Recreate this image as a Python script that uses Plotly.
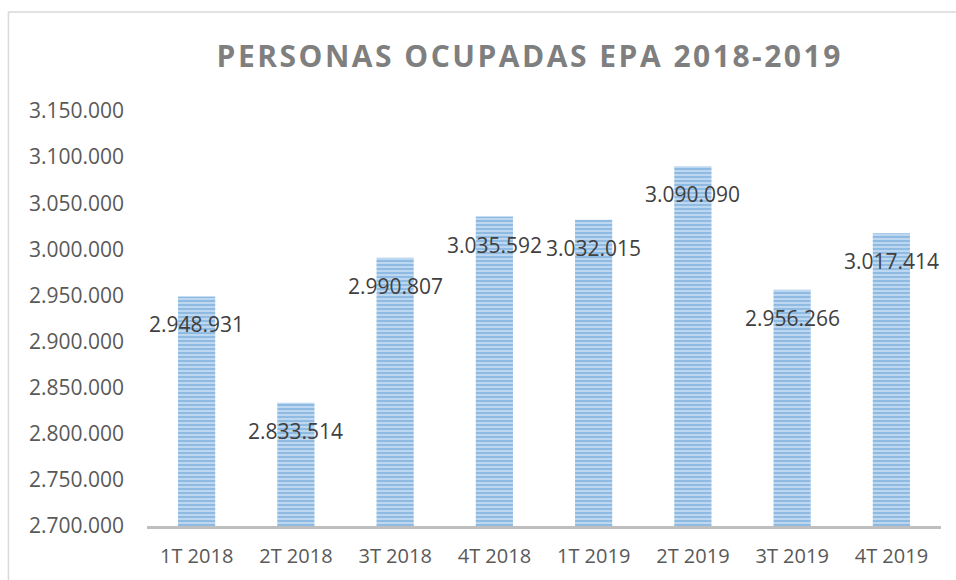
import plotly.graph_objects as go

categories = ["1T 2018", "2T 2018", "3T 2018", "4T 2018", "1T 2019", "2T 2019", "3T 2019", "4T 2019"]
ocupados = [2948931, 2833514, 2990807, 3035592, 3032015, 3090090, 2956266, 3017414]
title_text = "PERSONAS OCUPADAS EPA 2018-2019"

def fmt(v):
    return f"{v:,}".replace(",", ".")

fig = go.Figure()
fig.add_trace(go.Bar(
    x=categories, y=ocupados,
    marker=dict(color="#c2daf1", line=dict(width=0),
                pattern=dict(shape="-", fgcolor="#5b9bd5", bgcolor="#c2daf1", size=4, solidity=0.55)),
    hoverinfo="x+y",
))

for c, v in zip(categories, ocupados):
    fig.add_annotation(x=c, y=v, text=fmt(v), showarrow=False, yshift=-28,
                       font=dict(family="Open Sans", size=21, color="#404040"))

# outer chart border (top and left)
fig.add_shape(type="line", xref="paper", yref="paper", x0=-0.175, x1=1.03, y0=1.2386, y1=1.2386,
              line=dict(color="#d9d9d9", width=1.5))
fig.add_shape(type="line", xref="paper", yref="paper", x0=-0.1745, x1=-0.1745, y0=1.2386, y1=-0.2,
              line=dict(color="#d9d9d9", width=1.5))

fig.update_layout(
    width=956, height=580,
    margin=dict(l=147, r=15, t=111, b=54),
    paper_bgcolor="white", plot_bgcolor="white",
    separators=",.",
    bargap=0.625,
    showlegend=False,
    title=dict(text='<span style="letter-spacing:2.5px">' + title_text + '</span>',
               x=0.482, xref="paper", xanchor="center", y=0.902, yanchor="middle",
               font=dict(family="Open Sans", size=30, color="#7f7f7f", weight="bold")),
    font=dict(family="Open Sans", color="#595959"),
)
fig.update_yaxes(range=[2700000, 3150000], dtick=50000, tickformat=",d", showgrid=False,
                 zeroline=False, showline=False, ticklabelstandoff=22,
                 tickfont=dict(family="Open Sans", size=21, color="#595959"))
fig.update_xaxes(showline=True, linecolor="#bfbfbf", linewidth=2.5, showgrid=False,
                 ticks="", ticklabelstandoff=10,
                 tickfont=dict(family="Open Sans", size=20, color="#595959"))

fig.write_html("out.html", config={"displayModeBar": False},
               post_script="document.body.style.margin='0';document.body.style.overflow='hidden';")
